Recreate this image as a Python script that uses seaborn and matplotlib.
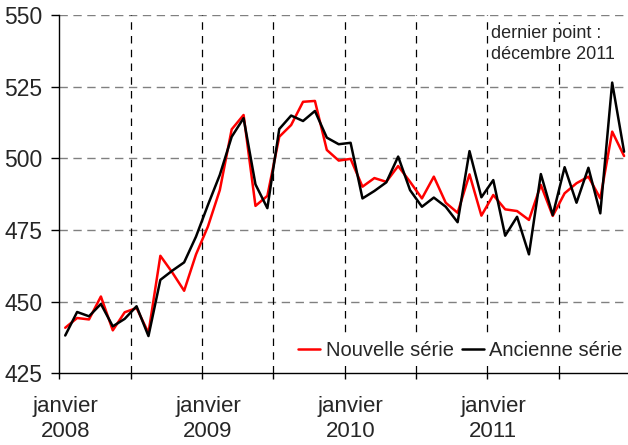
import matplotlib
matplotlib.use("Agg")
import matplotlib.pyplot as plt
import seaborn as sns
import pandas as pd
import numpy as np

# Monthly data, January 2008 - December 2011
months = pd.date_range("2008-01-01", "2011-12-01", freq="MS")
nouvelle = [440.9, 444.3, 443.8, 451.8, 440.0, 446.3, 447.8, 439.1, 466.0, 460.2, 453.8, 466.5,
            476.2, 488.9, 510.1, 515.1, 483.4, 486.9, 507.5, 511.6, 519.7, 520.0, 502.9, 499.2,
            499.8, 490.1, 493.1, 491.8, 497.3, 491.8, 486.0, 493.6, 484.5, 481.0, 494.4, 480.0,
            487.2, 482.2, 481.6, 478.5, 490.7, 479.9, 487.8, 491.3, 493.6, 486.0, 509.3, 500.8]
ancienne = [438.2, 446.4, 444.9, 449.2, 441.4, 444.0, 448.4, 438.0, 457.6, 460.8, 463.7, 472.7,
            483.7, 494.2, 507.5, 514.0, 490.9, 482.6, 510.2, 514.9, 513.0, 516.5, 507.2, 504.9,
            505.4, 486.0, 488.6, 491.6, 500.6, 488.9, 483.1, 486.3, 483.1, 477.7, 502.5, 486.4,
            492.4, 473.0, 479.6, 466.5, 494.5, 480.2, 496.9, 484.5, 496.7, 480.8, 526.4, 502.3]
series_names = ["Nouvelle série", "Ancienne série"]
series_colors = ["#ff0000", "#000000"]
year_labels = ["janvier\n2008", "janvier\n2009", "janvier\n2010", "janvier\n2011"]
y_ticks = [425, 450, 475, 500, 525, 550]
note = "dernier point :\ndécembre 2011"

idx = np.arange(len(months))
df = pd.concat([
    pd.DataFrame({"pos": idx, "val": nouvelle, "serie": series_names[0]}),
    pd.DataFrame({"pos": idx, "val": ancienne, "serie": series_names[1]}),
])

sns.set_style("white")
plt.rcParams["font.family"] = ["Liberation Sans", "DejaVu Sans"]

fig = plt.figure(figsize=(6.28, 4.45), dpi=100)
ax = fig.add_axes([0.0944, 0.161, 1 - 0.0944, 0.9665 - 0.161])

sns.lineplot(data=df, x="pos", y="val", hue="serie", hue_order=series_names,
             palette=series_colors, linewidth=1.8, ax=ax, legend=True)

ax.set_xlim(-0.5, 47.33)
ax.set_ylim(425, 550)

# horizontal gridlines
for v in y_ticks[1:]:
    ax.axhline(v, color="#808080", lw=1.0, ls=(0, (6, 4)), zorder=0.5)
# vertical gridlines every 6 months
bounds = np.arange(5.5, 47.5, 6)
for b in bounds:
    ax.axvline(b, color="black", lw=0.9, ls=(0, (6, 5)), zorder=0.5)

ax.set_yticks(y_ticks)
ax.tick_params(axis="y", which="major", direction="out", length=6, width=1,
               color="black", labelsize=16.5, pad=6, left=True)
ax.set_xticks(np.concatenate([[-0.5], bounds]))
ax.set_xticklabels([])
ax.tick_params(axis="x", which="major", direction="out", length=4, width=1,
               color="black", bottom=True)
ax.set_xticks([0, 12, 24, 36], minor=True)
ax.set_xticklabels(year_labels, minor=True, fontsize=16, linespacing=1.3)
ax.tick_params(axis="x", which="minor", length=0, pad=16)

for s in ["top", "right"]:
    ax.spines[s].set_visible(False)
for s in ["left", "bottom"]:
    ax.spines[s].set_color("black")
    ax.spines[s].set_linewidth(1.0)

ax.set_xlabel("")
ax.set_ylabel("")

leg = ax.legend(loc="center", bbox_to_anchor=(0.705, 0.063), ncol=2, frameon=True,
                fontsize=14.5, handlelength=1.1, handletextpad=0.25, columnspacing=0.4,
                borderpad=0.2, fancybox=False)
leg.get_frame().set_facecolor("white")
leg.get_frame().set_edgecolor("none")
leg.get_frame().set_alpha(1)
for line in leg.get_lines():
    line.set_linewidth(1.8)

ax.text(0.759, 0.919, note, transform=ax.transAxes, fontsize=13, ha="left",
        va="center", linespacing=1.25,
        bbox=dict(facecolor="white", edgecolor="none", pad=1))

fig.savefig("out.png", dpi=100)
